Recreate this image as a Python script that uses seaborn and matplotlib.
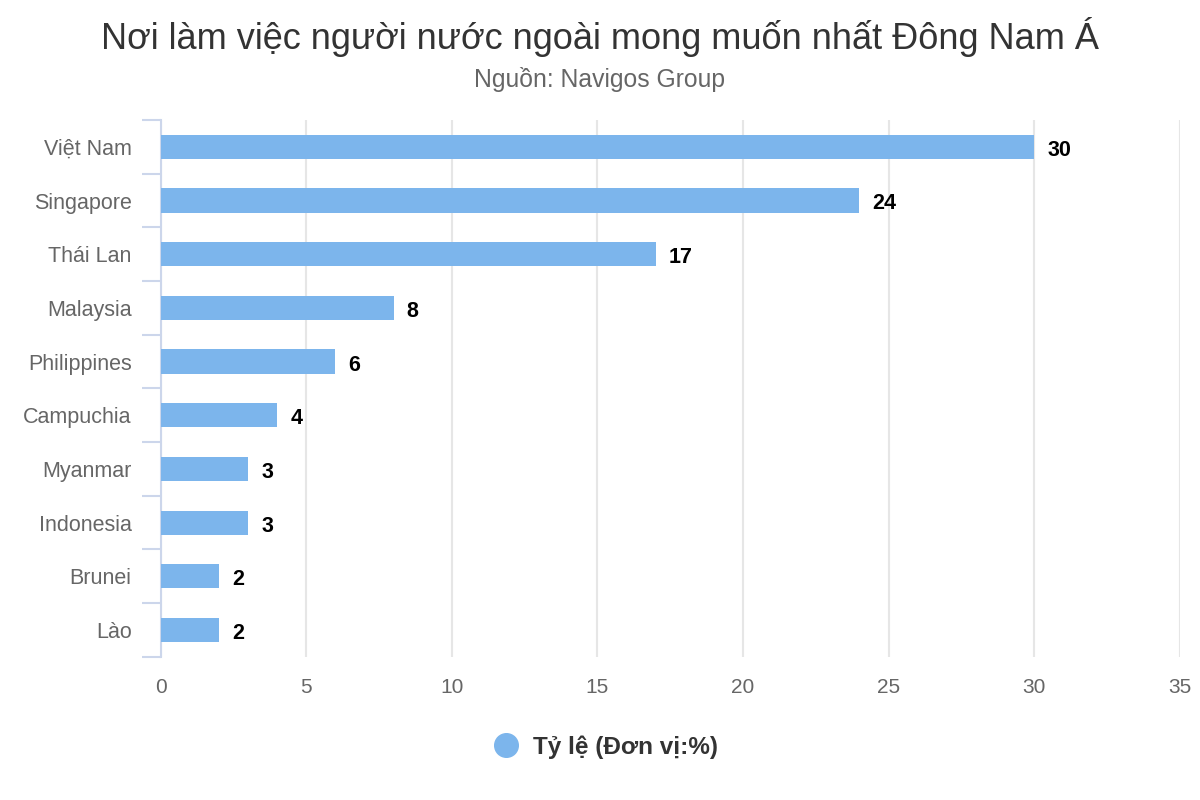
import matplotlib
matplotlib.use("Agg")
import matplotlib.pyplot as plt
from matplotlib.lines import Line2D
import seaborn as sb
import numpy as np
import pandas as pd

countries = ["Việt Nam", "Singapore", "Thái Lan", "Malaysia", "Philippines",
             "Campuchia", "Myanmar", "Indonesia", "Brunei", "Lào"]
values = [30, 24, 17, 8, 6, 4, 3, 3, 2, 2]
xticks = [0, 5, 10, 15, 20, 25, 30, 35]
title = "Nơi làm việc người nước ngoài mong muốn nhất Đông Nam Á"
subtitle = "Nguồn: Navigos Group"
series_name = "Tỷ lệ (Đơn vị:%)"

barColor = "#7cb5ec"

sb.set_style("white")
plt.rcParams['font.family'] = ['Liberation Sans', 'DejaVu Sans']

df = pd.DataFrame({"country": countries, "value": values})

fig = plt.figure(figsize=(12, 8), dpi=100)
ax = fig.add_axes([0.134, 0.179, 0.849, 0.671])

sb.barplot(data=df, x="value", y="country", color=barColor, width=0.45,
           saturation=1, linewidth=0, ax=ax, zorder=3)

ax.set_xlim(0, 35)
ax.set_ylim(9.5, -0.5)
ax.set_xticks(xticks)
ax.set_xlabel("")
ax.set_ylabel("")

# grid lines
ax.grid(axis="x", color="#e6e6e6", linewidth=1.5, zorder=0)
ax.grid(axis="y", visible=False)
ax.set_axisbelow(True)

for side in ["top", "right", "bottom"]:
	ax.spines[side].set_visible(False)
ax.spines["left"].set_color("#ccd6eb")
ax.spines["left"].set_linewidth(1.5)

ax.tick_params(axis="x", length=0, pad=15, labelsize=15, labelcolor="#666666")
ax.tick_params(axis="y", which="major", length=0, pad=21, labelsize=15.5, labelcolor="#666666")
ax.set_yticks(np.arange(-0.5, len(countries), 1), minor=True)
ax.tick_params(axis="y", which="minor", left=True, length=14, width=1.5, color="#ccd6eb")

# value labels
for i, v in enumerate(values):
	ax.annotate(str(v), xy=(v, i), xytext=(9.5, -2.5), textcoords="offset points",
				ha="left", va="center", fontsize=15.5, fontweight="bold", color="black")

fig.text(0.5, 0.954, title, ha="center", va="center", fontsize=26, color="#333333")
fig.text(0.5, 0.901, subtitle, ha="center", va="center", fontsize=17.8, color="#666666")

handle = Line2D([], [], marker="o", linestyle="none", markersize=17,
				markerfacecolor=barColor, markeredgecolor=barColor)
leg = fig.legend([handle], [series_name], loc="center", bbox_to_anchor=(0.5, 0.066),
				 frameon=False, handletextpad=0.1, prop={"size": 17.5, "weight": "bold"})
for t in leg.get_texts():
	t.set_color("#333333")

fig.savefig("out.png", dpi=100)
